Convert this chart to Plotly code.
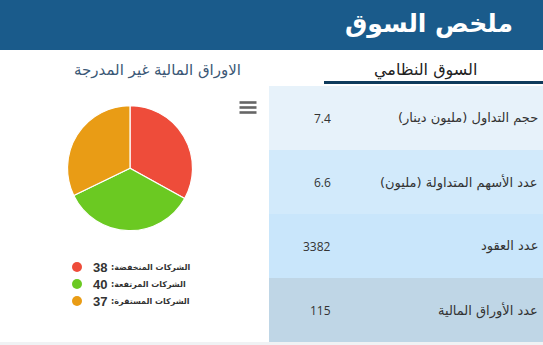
import plotly.graph_objects as go

W, H = 543, 345

# ---- data ----
title_text = "ملخص السوق"
left_title = "الاوراق المالية غير المدرجة"
tab_title = "السوق النظامي"

pie_labels = ["الشركات المنخفضة", "الشركات المرتفعة", "الشركات المستقرة"]
pie_values = [38, 40, 37]
pie_colors = ["#ee4c3a", "#6bc922", "#e99c15"]

table_labels = ["حجم التداول (مليون دينار)", "عدد الأسهم المتداولة (مليون)", "عدد العقود", "عدد الأوراق المالية"]
table_values = ["7.4", "6.6", "3382", "115"]
row_colors = ["#e7f2fa", "#d2eafb", "#c9e6fb", "#bfd6e6"]

RLM = "\u200f"
AR_FONT = "DejaVu Sans"


def px(x):
    return x / W


def py(y):
    return 1 - y / H


fig = go.Figure()

fig.add_trace(go.Pie(
    labels=pie_labels,
    values=pie_values,
    marker=dict(colors=pie_colors, line=dict(color="white", width=1.2)),
    sort=False,
    direction="clockwise",
    rotation=0,
    textinfo="none",
    showlegend=False,
    domain=dict(x=[px(67.3), px(192.7)], y=[py(230.7), py(105.7)]),
))

shapes = []
annotations = []

# header band
shapes.append(dict(type="rect", xref="paper", yref="paper", x0=0, x1=1, y0=py(50), y1=1,
                   fillcolor="#1a5b8b", line=dict(width=0), layer="below"))
annotations.append(dict(text="<b>" + title_text + "</b>", x=px(515), y=py(24), xref="paper", yref="paper",
                        xanchor="right", yanchor="middle", showarrow=False,
                        font=dict(family=AR_FONT, size=25, color="white")))

# section titles
annotations.append(dict(text=left_title, x=px(157), y=py(70), xref="paper", yref="paper",
                        xanchor="center", yanchor="middle", showarrow=False,
                        font=dict(family=AR_FONT, size=15, color="#3b5876")))
annotations.append(dict(text=tab_title, x=px(425), y=py(70), xref="paper", yref="paper",
                        xanchor="center", yanchor="middle", showarrow=False,
                        font=dict(family=AR_FONT, size=16, color="#222222")))
shapes.append(dict(type="rect", xref="paper", yref="paper", x0=px(324), x1=1, y0=py(84), y1=py(81),
                   fillcolor="#0e3b5c", line=dict(width=0)))

# hamburger menu icon
for yb in [102.5, 107.5, 112.5]:
    shapes.append(dict(type="rect", xref="paper", yref="paper", x0=px(239.5), x1=px(256.5),
                       y0=py(yb + 1.3), y1=py(yb - 1.3), fillcolor="#666666", line=dict(width=0)))

# table rows
row_top, row_h = 86, 64
for i, (lab, val) in enumerate(zip(table_labels, table_values)):
    y0 = row_top + i * row_h
    shapes.append(dict(type="rect", xref="paper", yref="paper", x0=px(269), x1=1,
                       y0=py(y0 + row_h), y1=py(y0), fillcolor=row_colors[i], line=dict(width=0),
                       layer="below"))
    yc = y0 + row_h / 2
    annotations.append(dict(text=lab + RLM, x=px(540), y=py(yc), xref="paper", yref="paper",
                            xanchor="right", yanchor="middle", showarrow=False,
                            font=dict(family=AR_FONT, size=13, color="#333333")))
    annotations.append(dict(text=val, x=px(333), y=py(yc), xref="paper", yref="paper",
                            xanchor="right", yanchor="middle", showarrow=False,
                            font=dict(family="Open Sans", size=12, color="#333333")))

# bottom strip
shapes.append(dict(type="rect", xref="paper", yref="paper", x0=0, x1=1, y0=0, y1=py(342),
                   fillcolor="#f0f2f4", line=dict(width=0)))

# custom legend
for i, (lab, val, col) in enumerate(zip(pie_labels, pie_values, pie_colors)):
    yc = 267 + i * 17
    shapes.append(dict(type="circle", xref="paper", yref="paper", x0=px(72), x1=px(82),
                       y0=py(yc + 5), y1=py(yc - 5), fillcolor=col, line=dict(width=0)))
    annotations.append(dict(text="<b>%d</b>" % val, x=px(91), y=py(yc), xref="paper", yref="paper",
                            xanchor="left", yanchor="middle", showarrow=False,
                            font=dict(family="Liberation Sans", size=13, color="#333333")))
    annotations.append(dict(text="<b>" + lab + ":" + RLM + "</b>", x=px(109), y=py(yc), xref="paper", yref="paper",
                            xanchor="left", yanchor="middle", showarrow=False,
                            font=dict(family=AR_FONT, size=8, color="#333333")))

fig.update_layout(
    width=W, height=H,
    margin=dict(l=0, r=0, t=0, b=0),
    paper_bgcolor="white",
    plot_bgcolor="white",
    shapes=shapes,
    annotations=annotations,
    xaxis=dict(visible=False),
    yaxis=dict(visible=False),
)

fig.write_html("out.html", config={"displayModeBar": False})
